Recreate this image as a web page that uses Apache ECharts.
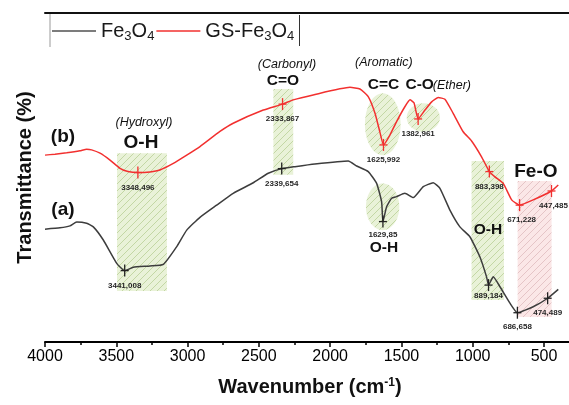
<!DOCTYPE html>
<html>
<head>
<meta charset="utf-8">
<script src="https://cdn.jsdelivr.net/npm/echarts@6/dist/echarts.min.js"></script>
<style>
  html, body { margin: 0; padding: 0; background: #fff; }
  #chart { width: 569px; height: 405px; }
</style>
</head>
<body>
<div id="chart"></div>
<script>
// FTIR spectra: wavenumber (cm-1) vs transmittance (arbitrary offset units)
const xTicks = [4000, 3500, 3000, 2500, 2000, 1500, 1000, 500];

const fe3o4 = [
  [4000, 34.3], [3895, 34.7], [3825, 35.3], [3778, 36.5], [3708, 36.1], [3661, 35.0],
  [3591, 31.0], [3497, 23.9], [3441.008, 21.7], [3381, 22.7], [3264, 23.1], [3170, 23.6],
  [3076, 29.0], [3006, 34.0], [2913, 37.9], [2796, 41.6], [2680, 45.2], [2539, 48.4],
  [2434, 51.3], [2339.654, 52.7], [2247, 53.3], [2107, 54.1], [1873, 55.0], [1814, 53.5],
  [1733, 51.8], [1674, 48.2], [1639, 42.6], [1629.85, 36.6], [1604, 41.1], [1569, 43.7],
  [1534, 44.2], [1476, 45.2], [1417, 43.9], [1347, 47.2], [1277, 48.4], [1230, 46.7],
  [1160, 40.1], [1090, 35.0], [1020, 32.0], [950, 25.9], [903, 19.8], [889.184, 17.3],
  [856, 19.8], [809, 16.8], [739, 11.8], [686.658, 8.9], [576, 10.7], [474.489, 13.3],
  [400, 16.0]
];

const gsFe3o4 = [
  [4000, 56.8], [3930, 57.1], [3848, 57.5], [3755, 58.1], [3708, 58.6], [3673, 58.4],
  [3614, 57.4], [3544, 55.3], [3474, 52.8], [3418, 51.8], [3348.496, 51.5], [3264, 51.7],
  [3194, 52.3], [3100, 54.3], [3006, 56.8], [2913, 59.4], [2773, 64.0], [2680, 66.5],
  [2469, 70.5], [2333.867, 72.3], [2259, 73.6], [2119, 75.1], [1861, 77.4], [1791, 76.9],
  [1733, 74.6], [1686, 69.6], [1651, 63.8], [1625.992, 59.9], [1581, 62.9], [1534, 67.0],
  [1476, 71.5], [1440, 73.6], [1412, 72.7], [1382.961, 67.8], [1335, 70.5], [1288, 73.0],
  [1242, 74.3], [1195, 73.8], [1137, 69.5], [1067, 63.9], [1008, 61.1], [938, 56.3],
  [883.398, 51.8], [844, 50.2], [786, 48.2], [727, 43.2], [671.228, 41.6], [576, 43.2],
  [447.485, 45.9], [400, 47.7]
];

// labelled band positions (cm-1)
const fe3o4Peaks = [3441.008, 2339.654, 1629.85, 889.184, 686.658, 474.489];
const gsFe3o4Peaks = [3348.496, 2333.867, 1625.992, 1382.961, 883.398, 671.228, 447.485];

// highlighted absorption regions: [from, top, to, bottom]
const bandRects = [
  [3495, 57.4, 3145, 15.5],
  [2398, 76.9, 2259, 50.8],
  [1008, 55.0, 781, 12.8]
];
const bandOvals = [
  [1756, 75.6, 1506, 56.8],
  [1463, 72.6, 1230, 63.9],
  [1749, 48.2, 1515, 34.0]
];
const ironOxideBand = [[685, 48.9, 447, 7.6]];

// group assignments: [wavenumber, transmittance, text]
const tags = [[3874, 62.3, '(b)'], [3874, 40.1, '(a)']];
const groupNames = [[3327, 60.5, 'O-H'], [557, 51.7, 'Fe-O']];
const groupSmall = [
  [2331, 79.3, 'C=O'], [1626, 78.1, 'C=C'], [1372, 78.1, 'C-O'],
  [1623, 28.6, 'O-H'], [893, 34.0, 'O-H']
];
const groupKinds = [
  [3306, 66.6, '(Hydroxyl)'], [2303, 84.2, '(Carbonyl)'],
  [1623, 84.8, '(Aromatic)'], [1146, 78.1, '(Ether)']
];

const FONT = '"Liberation Sans", Arial, sans-serif';
const BLACK = '#3d3d3d';
const RED = '#f2302f';

function hatch(bg, line) {
  const s = 7, c = document.createElement('canvas');
  c.width = s; c.height = s;
  const g = c.getContext('2d');
  g.fillStyle = bg; g.fillRect(0, 0, s, s);
  g.strokeStyle = line; g.lineWidth = 1;
  g.beginPath();
  g.moveTo(0, s); g.lineTo(s, 0);
  g.moveTo(-1, 1); g.lineTo(1, -1);
  g.moveTo(s - 1, s + 1); g.lineTo(s + 1, s - 1);
  g.stroke();
  return { image: c, repeat: 'repeat' };
}
const greenHatch = hatch('#e9f2d8', '#c3d7a4');
const pinkHatch = hatch('#fbe7e7', '#e5c4c6');

function valueAt(curve, w) {
  const p = curve.find(d => d[0] === w);
  return p[1];
}

function regionSeries(data, kind, fill) {
  return {
    type: 'custom', silent: true, z: 1,
    encode: { x: [0, 2], y: [1, 3] },
    data: data,
    renderItem: function (params, api) {
      const a = api.coord([api.value(0), api.value(1)]);
      const b = api.coord([api.value(2), api.value(3)]);
      const x = Math.min(a[0], b[0]), y = Math.min(a[1], b[1]);
      const w = Math.abs(b[0] - a[0]), h = Math.abs(b[1] - a[1]);
      if (kind === 'oval') {
        return { type: 'ellipse', shape: { cx: x + w / 2, cy: y + h / 2, rx: w / 2, ry: h / 2 }, style: { fill: fill } };
      }
      return { type: 'rect', shape: { x: x, y: y, width: w, height: h }, style: { fill: fill } };
    }
  };
}

const labelShift = { '1629,85': [0, -2], '889,184': [0, -4], '686,658': [0, -1], '671,228': [2, 0], '447,485': [2, 0] };

function peakSeries(curve, peaks, color) {
  return {
    type: 'custom', silent: true, z: 5,
    data: peaks.map(w => [w, valueAt(curve, w)]),
    renderItem: function (params, api) {
      const c = api.coord([api.value(0), api.value(1)]);
      const text = String(api.value(0)).replace('.', ',');
      const sh = labelShift[text] || [0, 0];
      return {
        type: 'group',
        children: [
          { type: 'line', shape: { x1: c[0], y1: c[1] - 6, x2: c[0], y2: c[1] + 6 }, style: { stroke: color, lineWidth: 1.3 } },
          { type: 'line', shape: { x1: c[0] - 4, y1: c[1], x2: c[0] + 4, y2: c[1] }, style: { stroke: color, lineWidth: 1.3 } },
          { type: 'text', x: c[0] + sh[0], y: c[1] + 15 + sh[1],
            style: { text: text, fill: '#262626', font: 'bold 8px ' + FONT, align: 'center', verticalAlign: 'middle' } }
        ]
      };
    }
  };
}

function noteSeries(data, font) {
  return {
    type: 'custom', silent: true, z: 6,
    data: data.map(d => [d[0], d[1]]),
    renderItem: function (params, api) {
      const c = api.coord([api.value(0), api.value(1)]);
      return { type: 'text', x: c[0], y: c[1],
        style: { text: data[params.dataIndex][2], fill: '#111', font: font, align: 'center', verticalAlign: 'middle' } };
    }
  };
}

const chart = echarts.init(document.getElementById('chart'), null, { renderer: 'canvas' });
chart.setOption({
  animation: false,
  backgroundColor: '#fff',
  grid: { left: 45, top: 13, width: 570.3, height: 329, outerBoundsMode: 'none', containLabel: false },
  xAxis: [{
    type: 'value', min: 0, max: 4000, interval: 500, inverse: true,
    axisLine: { lineStyle: { color: '#000', width: 2 } },
    axisTick: { show: true, length: 5, lineStyle: { color: '#000', width: 1.5 } },
    minorTick: { show: true, splitNumber: 2, length: 3, lineStyle: { color: '#000', width: 1.5 } },
    splitLine: { show: false },
    axisLabel: {
      margin: 7, fontSize: 16, color: '#000', fontFamily: FONT,
      formatter: v => (xTicks.indexOf(v) >= 0 ? String(v) : '')
    }
  }, {
    type: 'value', position: 'top', min: 0, max: 4000, inverse: true,
    axisLine: { lineStyle: { color: '#111', width: 2 } },
    axisTick: { show: false }, axisLabel: { show: false }, splitLine: { show: false }
  }],
  yAxis: {
    type: 'value', min: 0, max: 100,
    name: 'Transmittance (%)', nameLocation: 'middle', nameGap: 10,
    nameTextStyle: { fontSize: 20, fontWeight: 'bold', color: '#111', fontFamily: FONT },
    axisLine: { show: true, lineStyle: { color: '#000', width: 2 } },
    axisTick: { show: false }, axisLabel: { show: false }, splitLine: { show: false }
  },
  legend: {
    left: 52, top: 19, padding: 0, itemGap: 2, itemWidth: 44, itemHeight: 1.6,
    icon: 'rect', selectedMode: false,
    data: ['Fe3O4', 'GS-Fe3O4'],
    formatter: n => n.replace(/(\d)/g, '{s|$1}'),
    textStyle: {
      fontSize: 20, lineHeight: 24, color: '#1a1a1a', fontFamily: FONT,
      rich: { s: { fontSize: 13, lineHeight: 8, verticalAlign: 'bottom', fontFamily: FONT, color: '#1a1a1a' } }
    }
  },
  graphic: [
    { type: 'line', shape: { x1: 50, y1: 14, x2: 50, y2: 47 }, style: { stroke: '#9a9a9a', lineWidth: 1 } },
    { type: 'line', shape: { x1: 299.5, y1: 15, x2: 299.5, y2: 46 }, style: { stroke: '#333', lineWidth: 1 } },
    { type: 'text', x: 310, y: 387,
      style: { text: 'Wavenumber (cm{sup|-1})', font: 'bold 20px ' + FONT, fill: '#111', align: 'center', verticalAlign: 'middle',
        rich: { sup: { fontSize: 12, fontWeight: 'bold', lineHeight: 18, verticalAlign: 'top', fontFamily: FONT, fill: '#111' } } } }
  ],
  series: [
    regionSeries(bandRects, 'rect', greenHatch),
    regionSeries(bandOvals, 'oval', greenHatch),
    regionSeries(ironOxideBand, 'rect', pinkHatch),
    { name: 'Fe3O4', type: 'line', data: fe3o4, showSymbol: false, smooth: 0.15, z: 3,
      color: '#505050', lineStyle: { color: BLACK, width: 1.5 } },
    { name: 'GS-Fe3O4', type: 'line', data: gsFe3o4, showSymbol: false, smooth: 0.15, z: 3,
      color: RED, lineStyle: { color: RED, width: 1.5 } },
    peakSeries(fe3o4, fe3o4Peaks, '#222'),
    peakSeries(gsFe3o4, gsFe3o4Peaks, RED),
    noteSeries(tags, 'bold 19px ' + FONT),
    noteSeries(groupNames, 'bold 19px ' + FONT),
    noteSeries(groupSmall, 'bold 15.5px ' + FONT),
    noteSeries(groupKinds, 'italic 12.5px ' + FONT)
  ]
});
</script>
</body>
</html>
